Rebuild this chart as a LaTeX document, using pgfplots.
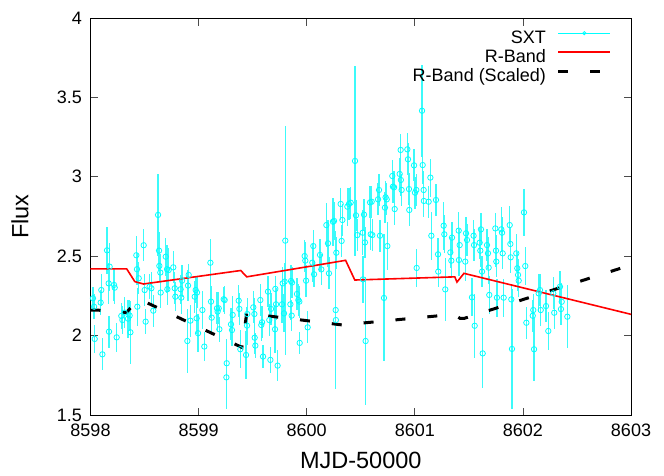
\documentclass[border=0pt]{standalone}
\usepackage{fontspec}
\setmainfont{Liberation Sans}
\usepackage{pgfplots}
\pgfplotsset{compat=1.18}
\usepackage{pgfplotstable}
\definecolor{sxtc}{RGB}{0,255,255}
\definecolor{sxtbar}{RGB}{60,250,250}
\definecolor{rbc}{RGB}{255,0,0}

\pgfplotstableread{
x y e
8598.023 2.235 0.07
8598.033 2.182 0.08
8598.039 1.979 0.09
8598.094 2.208 0.08
8598.100 2.287 0.10
8598.110 1.882 0.10
8598.153 2.537 0.15
8598.168 2.329 0.13
8598.171 2.025 0.10
8598.177 2.434 0.15
8598.218 2.319 0.10
8598.224 2.302 0.10
8598.242 1.989 0.09
8598.285 2.124 0.08
8598.295 2.098 0.09
8598.316 2.145 0.10
8598.347 2.107 0.12
8598.362 2.126 0.10
8598.369 2.021 0.20
8598.424 2.506 0.12
8598.430 2.418 0.10
8598.433 2.182 0.12
8598.446 2.361 0.10
8598.492 2.569 0.10
8598.501 2.287 0.10
8598.510 2.088 0.08
8598.547 2.308 0.08
8598.563 2.298 0.10
8598.581 2.157 0.10
8598.625 2.760 0.26
8598.634 2.535 0.12
8598.637 2.439 0.10
8598.646 2.397 0.12
8598.649 2.271 0.10
8598.696 2.497 0.12
8598.708 2.418 0.15
8598.711 2.292 0.10
8598.723 2.413 0.14
8598.766 2.430 0.10
8598.779 2.298 0.10
8598.785 2.245 0.09
8598.834 2.292 0.09
8598.840 2.239 0.10
8598.847 2.346 0.10
8598.896 1.966 0.20
8598.902 2.315 0.10
8598.908 2.382 0.07
8598.924 2.094 0.10
8598.964 2.245 0.10
8598.973 2.287 0.08
8598.982 2.109 0.10
8598.985 2.271 0.10
8598.995 2.015 0.12
8599.035 2.161 0.12
8599.053 1.931 0.09
8599.109 2.459 0.15
8599.115 2.214 0.10
8599.121 2.113 0.10
8599.170 2.172 0.10
8599.176 2.151 0.12
8599.186 2.172 0.10
8599.192 2.040 0.08
8599.232 2.229 0.08
8599.241 2.224 0.09
8599.260 1.826 0.15
8599.257 1.737 0.20
8599.300 2.071 0.10
8599.309 2.035 0.10
8599.315 2.130 0.12
8599.371 2.220 0.10
8599.377 2.168 0.10
8599.386 1.914 0.12
8599.439 1.878 0.15
8599.448 2.063 0.12
8599.450 2.136 0.10
8599.506 2.178 0.10
8599.516 2.136 0.10
8599.519 1.987 0.10
8599.525 1.937 0.08
8599.571 2.224 0.10
8599.580 2.067 0.10
8599.587 2.084 0.10
8599.596 1.868 0.07
8599.642 2.277 0.10
8599.654 2.098 0.10
8599.664 1.847 0.08
8599.670 2.168 0.10
8599.707 2.040 0.15
8599.710 2.294 0.08
8599.716 2.197 0.10
8599.731 1.811 0.10
8599.772 2.197 0.12
8599.778 2.329 0.10
8599.790 2.140 0.12
8599.802 2.598 0.72
8599.795 2.340 0.12
8599.849 2.197 0.10
8599.855 2.344 0.10
8599.861 2.126 0.10
8599.864 2.334 0.10
8599.910 2.262 0.10
8599.923 2.224 0.10
8599.932 2.214 0.10
8599.935 1.954 0.07
8599.981 2.501 0.10
8599.987 2.472 0.12
8599.994 2.346 0.10
8600.009 2.052 0.10
8600.052 2.459 0.12
8600.061 2.564 0.10
8600.068 2.386 0.08
8600.123 2.508 0.10
8600.135 2.417 0.10
8600.182 2.696 0.14
8600.197 2.581 0.15
8600.206 2.392 0.10
8600.243 2.717 0.15
8600.253 2.722 0.12
8600.268 2.161 0.50
8600.270 2.098 0.12
8600.274 2.522 0.10
8600.314 2.829 0.10
8600.323 2.596 0.10
8600.330 2.728 0.10
8600.376 2.812 0.12
8600.391 2.829 0.10
8600.407 2.837 0.10
8600.447 3.100 0.60
8600.456 2.757 0.10
8600.468 2.633 0.10
8600.518 2.648 0.14
8600.530 2.762 0.10
8600.539 2.587 0.10
8600.520 2.354 0.15
8600.545 1.966 0.40
8600.586 2.839 0.10
8600.592 2.638 0.10
8600.607 2.633 0.10
8600.601 2.843 0.10
8600.660 2.858 0.10
8600.678 2.629 0.10
8600.669 2.917 0.10
8600.715 2.237 0.40
8600.724 2.806 0.10
8600.730 2.871 0.10
8600.740 2.858 0.10
8600.746 2.564 0.15
8600.792 3.005 0.10
8600.798 2.938 0.10
8600.808 2.934 0.10
8600.814 2.797 0.10
8600.860 3.018 0.10
8600.869 3.169 0.10
8600.871 2.980 0.10
8600.878 2.917 0.10
8600.931 3.173 0.10
8600.937 3.110 0.10
8600.946 2.923 0.10
8600.949 2.791 0.10
8600.993 3.072 0.10
8601.002 2.900 0.10
8601.014 2.917 0.10
8601.017 2.426 0.12
8601.067 3.416 0.29
8601.073 3.074 0.12
8601.082 2.917 0.12
8601.084 2.848 0.10
8601.128 2.843 0.10
8601.144 2.995 0.12
8601.153 2.629 0.15
8601.196 2.854 0.10
8601.215 2.512 0.10
8601.217 2.403 0.10
8601.267 2.692 0.15
8601.273 2.638 0.12
8601.282 2.291 0.20
8601.329 2.524 0.10
8601.338 2.472 0.10
8601.344 2.617 0.10
8601.406 2.661 0.12
8601.408 2.476 0.10
8601.415 2.570 0.10
8601.467 2.466 0.12
8601.474 2.644 0.10
8601.483 2.602 0.10
8601.529 2.241 0.12
8601.544 2.629 0.10
8601.548 2.570 0.10
8601.554 2.062 0.20
8601.600 2.585 0.10
8601.606 2.535 0.10
8601.612 2.669 0.10
8601.622 2.403 0.10
8601.628 1.888 0.22
8601.668 2.570 0.10
8601.677 2.518 0.10
8601.683 2.428 0.10
8601.689 2.256 0.12
8601.745 2.675 0.10
8601.751 2.535 0.10
8601.754 2.466 0.10
8601.760 2.239 0.12
8601.800 2.669 0.14
8601.807 2.648 0.10
8601.813 2.518 0.10
8601.822 2.239 0.12
8601.878 2.696 0.12
8601.884 2.577 0.10
8601.887 2.493 0.10
8601.893 2.228 0.10
8601.899 1.916 0.38
8601.939 2.518 0.12
8601.948 2.424 0.10
8601.955 2.382 0.10
8601.961 2.346 0.10
8602.010 2.776 0.15
8602.022 2.438 0.12
8602.032 2.081 0.10
8602.091 2.125 0.10
8602.096 2.161 0.10
8602.103 1.914 0.20
8602.146 2.266 0.12
8602.158 2.287 0.10
8602.165 2.161 0.10
8602.214 2.186 0.10
8602.235 2.029 0.12
8602.281 2.266 0.10
8602.290 2.144 0.10
8602.343 2.308 0.10
8602.352 2.167 0.10
8602.359 2.213 0.12
8602.411 2.119 0.20
}\sxt

\pgfplotstableread{
x y
8598.000 2.420
8598.335 2.420
8598.410 2.340
8598.490 2.325
8599.390 2.410
8599.445 2.370
8600.360 2.474
8600.445 2.350
8601.370 2.370
8601.390 2.337
8601.455 2.392
8603.000 2.134
}\rband

\pgfplotstableread{
x y
8598.000 2.161
8598.060 2.161
8598.330 2.145
8598.450 2.230
8599.400 1.926
8599.445 2.140
8600.330 2.067
8601.360 2.134
8601.418 2.109
8601.460 2.109
8603.000 2.445
}\rscaled

\begin{document}
\begin{tikzpicture}
\begin{axis}[
  name=ax, at={(0,0)}, anchor=south west,
  scale only axis, width=540.5pt, height=397pt,
  xmin=8598, xmax=8603, ymin=1.5, ymax=4,
  xtick={8598,8599,8600,8601,8602,8603},
  ytick={1.5,2,2.5,3,3.5,4},
  xticklabels={8598,8599,8600,8601,8602,8603},
  yticklabels={1.5,2,2.5,3,3.5,4},
  tick align=inside, major tick length=7.5pt, minor tick num=0,
  every tick/.style={black!70, line width=0.7pt},
  axis line style={line width=1pt},
  ticklabel style={font=\fontsize{18}{20}\selectfont},
  xticklabel style={yshift=-5pt},
  yticklabel style={xshift=-5pt},
  xlabel={MJD-50000}, ylabel={Flux},
  label style={font=\fontsize{23.5}{26}\selectfont},
  xlabel style={at={(axis description cs:0.5,-0.1335)}, anchor=base},
  ylabel style={at={(axis description cs:-0.1304,0.5)}, anchor=center},
  legend cell align=right, legend plot pos=right,
  legend style={at={(0.9704,0.9737)}, anchor=north east, draw=none, fill=none,
    font=\fontsize{18}{20}\selectfont, row sep=2pt, column sep=11pt,
    nodes={inner sep=0pt, text height=13pt, text depth=4pt}},
]
\addplot[only marks, color=sxtc, mark=o, mark size=2.7pt, mark options={line width=0.8pt},
  legend image code/.code={\draw[sxtc, line width=1.1pt] (0pt,6pt) -- (52pt,6pt);
    \draw[sxtc, line width=0.8pt] (26pt,6pt) circle (1.6pt);},
  error bars/.cd, y dir=both, y explicit, error mark=none,
  error bar style={line width=1.2pt, sxtbar}]
  table[x=x, y=y, y error=e] {\sxt};
\addlegendentry{SXT}
\addplot[rbc, line width=1.6pt,
  legend image code/.code={\draw[rbc, line width=1.3pt] (0pt,6pt) -- (52pt,6pt);}]
  table[x=x, y=y] {\rband};
\addlegendentry{R-Band}
\addplot[black, line width=3pt, dash pattern=on 10pt off 22pt,
  legend image code/.code={\draw[black, line width=3pt, dash pattern=on 10pt off 22pt] (0pt,6pt) -- (52pt,6pt);}]
  table[x=x, y=y] {\rscaled};
\addlegendentry{R-Band (Scaled)}
\end{axis}
\pgfresetboundingbox
\path[use as bounding box] (-90.5pt,-60pt) rectangle (573.5pt,415pt);
\end{tikzpicture}
\end{document}
